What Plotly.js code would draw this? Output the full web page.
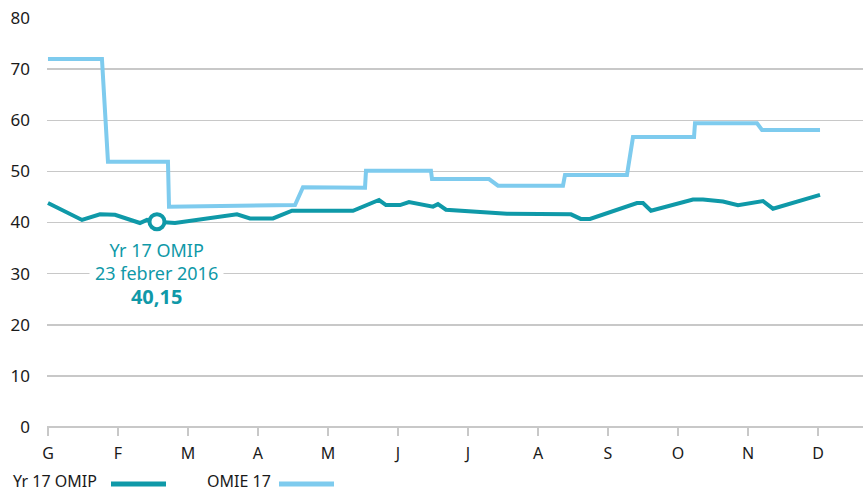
<!DOCTYPE html>
<html>
<head>
<meta charset="utf-8">
<script src="https://cdn.plot.ly/plotly-3.0.1.min.js"></script>
<style>html,body{margin:0;padding:0;background:#fff}#chart{width:863px;height:491px}</style>
</head>
<body>
<div id="chart"></div>
<script>
// Month tick labels (Catalan initials)
const monthLabels = ['G','F','M','A','M','J','J','A','S','O','N','D'];
const monthPos = [0,1,2,3,4,5,6,7,8,9,10,11];

// OMIE 17 (position in months, value)
const omieX = [0,0.771,0.857,1.714,1.729,3.529,3.643,4.529,4.543,5.471,5.486,6.3,6.429,7.357,7.386,8.271,8.357,9.229,9.243,10.129,10.2,11.029];
const omieY = [72,72,51.9,51.9,43.1,43.4,46.9,46.8,50.1,50.1,48.5,48.5,47.2,47.2,49.3,49.3,56.7,56.7,59.4,59.4,58.1,58.1];

// Yr 17 OMIP
const omipX = [0,0.486,0.743,0.957,1.314,1.414,1.557,1.814,2.7,2.886,3.214,3.486,4.357,4.729,4.829,5.029,5.157,5.5,5.571,5.686,6.557,7.357,7.471,7.61,7.743,8.414,8.5,8.614,9.214,9.357,9.643,9.857,10.214,10.357,11.029];
const omipY = [43.8,40.5,41.6,41.5,39.9,40.5,40.15,39.9,41.6,40.8,40.8,42.3,42.3,44.4,43.4,43.4,44.0,43.1,43.6,42.5,41.7,41.5,41.6,40.7,40.7,43.8,43.8,42.3,44.5,44.5,44.1,43.4,44.2,42.7,45.4];

// Highlighted point
const hlX = [1.557];
const hlY = [40.15];
const hlLabel = ['Yr 17 OMIP','23 febrer 2016','40,15'];

const teal = '#0f99a8';
const light = '#7ecbee';
const font = '"Noto Sans", "Open Sans", sans-serif';

const traces = [
  {x: omieX, y: omieY, mode: 'lines', line: {color: light, width: 4}, name: 'OMIE 17', hoverinfo: 'skip'},
  {x: omipX, y: omipY, mode: 'lines', line: {color: teal, width: 4}, name: 'Yr 17 OMIP', hoverinfo: 'skip'},
  {x: hlX, y: hlY, mode: 'markers', marker: {color: '#fff', size: 15, line: {color: teal, width: 4}}, hoverinfo: 'skip'}
];

const L = 47, W = 816, T = 18, H = 409;
function px(x){ return (x - L) / W; }
function py(y){ return (T + H - y) / H; }

const layout = {
  width: 863, height: 491,
  margin: {l: L, r: 0, t: T, b: 491 - T - H},
  paper_bgcolor: '#fff', plot_bgcolor: '#fff',
  showlegend: false,
  font: {family: font, size: 16, color: '#1a1a1a'},
  xaxis: {
    range: [-0.014, 11.643], tickvals: monthPos, ticktext: monthLabels,
    showgrid: false, zeroline: false, showline: false,
    ticks: 'outside', ticklen: 8, tickcolor: '#c8c8c8', tickwidth: 1.5,
    ticklabelstandoff: 4,
    tickfont: {family: font, size: 16, color: '#1a1a1a'}
  },
  yaxis: {
    range: [0, 80], dtick: 10, tick0: 0,
    showgrid: true, gridcolor: '#c8c8c8', gridwidth: 1.5,
    zeroline: true, zerolinecolor: '#c8c8c8', zerolinewidth: 1.5,
    showline: false, ticks: '', ticklabelstandoff: 16,
    tickfont: {family: font, size: 17, color: '#1a1a1a'}
  },
  annotations: [
    {x: hlX[0], y: 30, xref: 'x', yref: 'y', showarrow: false, xanchor: 'center', yanchor: 'middle',
     text: hlLabel[0] + '<br>' + hlLabel[1] + '<br><b><span style="font-size:20px">' + hlLabel[2] + '</span></b>',
     font: {family: font, size: 18, color: teal}, bgcolor: '#fff', borderpad: 5, align: 'center'},
    {x: px(12), y: py(481), xref: 'paper', yref: 'paper', showarrow: false, xanchor: 'left', yanchor: 'middle',
     text: 'Yr 17 OMIP', font: {family: font, size: 16, color: '#1a1a1a'}, borderpad: 0},
    {x: px(206), y: py(481), xref: 'paper', yref: 'paper', showarrow: false, xanchor: 'left', yanchor: 'middle',
     text: 'OMIE 17', font: {family: font, size: 16, color: '#1a1a1a'}, borderpad: 0}
  ],
  shapes: [
    {type: 'line', xref: 'paper', yref: 'paper', x0: px(111), x1: px(166), y0: py(484), y1: py(484), line: {color: teal, width: 5}},
    {type: 'line', xref: 'paper', yref: 'paper', x0: px(279), x1: px(334), y0: py(484), y1: py(484), line: {color: light, width: 5}}
  ]
};

Plotly.newPlot('chart', traces, layout, {displayModeBar: false, staticPlot: true});
</script>
</body>
</html>
